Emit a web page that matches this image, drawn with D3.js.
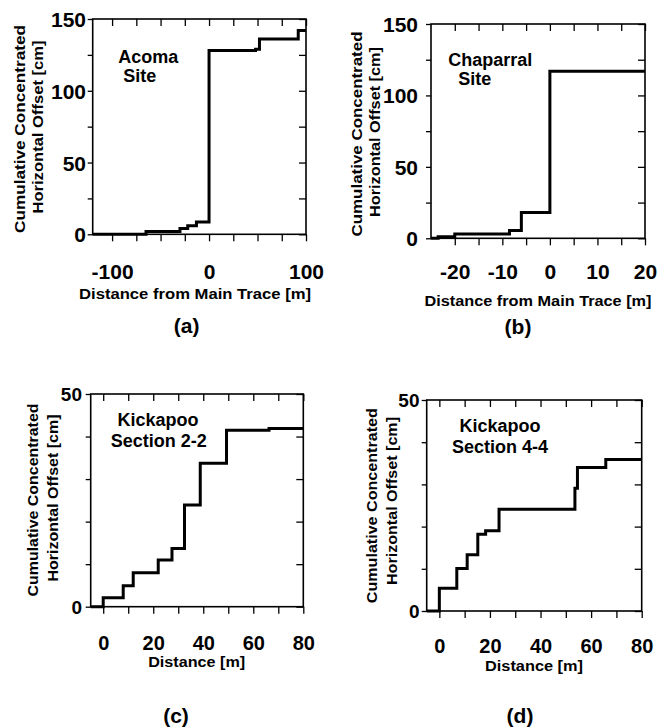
<!DOCTYPE html>
<html>
<head>
<meta charset="utf-8">
<script src="https://cdn.jsdelivr.net/npm/d3@7"></script>
<style>
  html, body { margin: 0; padding: 0; background: #fff; }
  svg { display: block; font-family: "Liberation Sans", Arial, Helvetica, sans-serif; }
</style>
</head>
<body>
<svg id="chart" width="657" height="727"></svg>
<script>
// ---------- DATA ----------
// (a) Acoma Site: step positions (m) and cumulative offset after each step (cm)
const acomaX = [-120, -65, -30, -22, -13, 0, 48, 52, 92, 100];
const acomaY = [0, 2, 4, 6, 8.5, 128, 129, 136, 142, 142];
// (b) Chaparral Site
const chaparralX = [-25, -23.5, -20, -8.5, -6, 0, 20];
const chaparralY = [0, 1, 3, 5.5, 18, 117, 117];
// (c) Kickapoo Section 2-2
const kick22X = [-5, 0, 8, 12, 22, 27.5, 32.5, 38.8, 49.3, 66.3, 80];
const kick22Y = [0, 2.1, 4.9, 8.0, 11.0, 13.7, 23.9, 33.7, 41.5, 41.9, 41.9];
// (d) Kickapoo Section 4-4
const kick44X = [-5, 0, 6.9, 11, 15.2, 18.3, 23.6, 53.6, 54.6, 65.8, 80];
const kick44Y = [0, 5.4, 10.1, 13.3, 18.2, 19.0, 24.1, 29.1, 34.0, 35.9, 35.9];

// Tick values
const acomaXTicks = [-100, -75, -50, -25, 0, 25, 50, 75, 100];
const acomaXLabels = [-100, 0, 100];
const chaparralXTicks = [-20, -15, -10, -5, 0, 5, 10, 15, 20];
const chaparralXLabels = [-20, -10, 0, 10, 20];
const siteYTicks = [0, 25, 50, 75, 100, 125, 150];
const siteYLabels = [0, 50, 100, 150];
const kickXTicks = [0, 10, 20, 30, 40, 50, 60, 70, 80];
const kickXLabels = [0, 20, 40, 60, 80];
const kickYTicks = [0, 10, 20, 30, 40, 50];
const kickYLabels = [0, 50];

// Text
const yTitle1 = "Cumulative Concentrated";
const yTitle2 = "Horizontal Offset [cm]";
const xTitleLong = "Distance from Main Trace [m]";
const xTitleShort = "Distance [m]";

// ---------- LAYOUT ----------
const svg = d3.select("#chart");

const panels = [
  {
    xs: acomaX, ys: acomaY, xDom: [-120, 100], yDom: [0, 150],
    box: {l: 92.7, r: 306, t: 19, b: 234.3},
    xTicks: acomaXTicks, xLabels: acomaXLabels, yTicks: siteYTicks, yLabels: siteYLabels,
    xLabOff: 37.4, yLabGap: 6.7, xFont: 21, yFont: 21,
    yt: [{x: 20, y: 129, len: 208}, {x: 38, y: 127, len: 173}], ytFont: 15,
    xt: {x: 195, y: 294, len: 232, text: xTitleLong}, xtFont: 14.5,
    site: [{text: "Acoma", x: 118.3, y: 63, anchor: "start"}, {text: "Site", x: 123.3, y: 81.7, anchor: "start"}],
    tag: {text: "(a)", x: 186.7, y: 326}
  },
  {
    xs: chaparralX, ys: chaparralY, xDom: [-25, 20], yDom: [0, 150],
    box: {l: 431, r: 645, t: 24, b: 238.3},
    xTicks: chaparralXTicks, xLabels: chaparralXLabels, yTicks: siteYTicks, yLabels: siteYLabels,
    xLabOff: 33.4, yLabGap: 13, xFont: 21, yFont: 21,
    yt: [{x: 356.7, y: 134, len: 205}, {x: 375, y: 132, len: 170}], ytFont: 15,
    xt: {x: 538, y: 301, len: 227, text: xTitleLong}, xtFont: 14.5,
    site: [{text: "Chaparral", x: 448.3, y: 66, anchor: "start"}, {text: "Site", x: 458.3, y: 85, anchor: "start"}],
    tag: {text: "(b)", x: 518, y: 327}
  },
  {
    xs: kick22X, ys: kick22Y, xDom: [-5, 80], yDom: [0, 50],
    box: {l: 90.7, r: 303.3, t: 394, b: 606.7},
    xTicks: kickXTicks, xLabels: kickXLabels, yTicks: kickYTicks, yLabels: kickYLabels,
    xLabOff: 35.8, yLabGap: 8.7, xFont: 20, yFont: 19,
    yt: [{x: 33.3, y: 500, len: 193}, {x: 53.3, y: 498, len: 167}], ytFont: 14,
    xt: {x: 196.7, y: 662, len: 97, text: xTitleShort}, xtFont: 14,
    site: [{text: "Kickapoo", x: 158, y: 426, anchor: "middle"}, {text: "Section 2-2", x: 158.7, y: 446.7, anchor: "middle"}],
    tag: {text: "(c)", x: 176, y: 716}
  },
  {
    xs: kick44X, ys: kick44Y, xDom: [-5, 80], yDom: [0, 50],
    box: {l: 426.7, r: 641.7, t: 400, b: 611},
    xTicks: kickXTicks, xLabels: kickXLabels, yTicks: kickYTicks, yLabels: kickYLabels,
    xLabOff: 34.5, yLabGap: 7.2, xFont: 20, yFont: 19,
    yt: [{x: 371.7, y: 505.7, len: 195}, {x: 391.7, y: 501, len: 168}], ytFont: 14,
    xt: {x: 534, y: 666, len: 98, text: xTitleShort}, xtFont: 14,
    site: [{text: "Kickapoo", x: 500, y: 431.7, anchor: "middle"}, {text: "Section 4-4", x: 500, y: 452.7, anchor: "middle"}],
    tag: {text: "(d)", x: 520, y: 716}
  }
];

const TICK = 7;

panels.forEach(p => {
  const b = p.box;
  const x = d3.scaleLinear().domain(p.xDom).range([b.l, b.r]);
  const y = d3.scaleLinear().domain(p.yDom).range([b.b, b.t]);
  const g = svg.append("g");

  const fmt = labels => d => labels.includes(d) ? String(d) : "";

  // bottom axis (ticks outward, labels)
  const bottom = g.append("g").attr("transform", `translate(0,${b.b})`)
    .call(d3.axisBottom(x).tickValues(p.xTicks).tickFormat(fmt(p.xLabels)).tickSizeInner(TICK).tickSizeOuter(0));
  bottom.selectAll(".tick text")
    .attr("y", p.xLabOff).attr("dy", "0.36em")
    .attr("font-size", p.xFont).attr("font-weight", "bold")
    .attr("font-family", "Liberation Sans, Arial, sans-serif").attr("fill", "#000");

  // top axis (ticks pointing down, inward)
  g.append("g").attr("transform", `translate(0,${b.t})`)
    .call(d3.axisTop(x).tickValues(p.xTicks).tickFormat("").tickSizeInner(-TICK).tickSizeOuter(0));

  // left axis (ticks outward, labels)
  const left = g.append("g").attr("transform", `translate(${b.l},0)`)
    .call(d3.axisLeft(y).tickValues(p.yTicks).tickFormat(fmt(p.yLabels)).tickSizeInner(5).tickSizeOuter(0));
  left.selectAll(".tick text")
    .attr("x", -p.yLabGap).attr("dy", "0.36em")
    .attr("font-size", p.yFont).attr("font-weight", "bold")
    .attr("font-family", "Liberation Sans, Arial, sans-serif").attr("fill", "#000");

  // right axis (ticks pointing left, inward)
  g.append("g").attr("transform", `translate(${b.r},0)`)
    .call(d3.axisRight(y).tickValues(p.yTicks).tickFormat("").tickSizeInner(-TICK).tickSizeOuter(0));

  g.selectAll(".domain").remove();
  g.selectAll(".tick line").attr("stroke", "#000").attr("stroke-width", 1.3);

  // frame
  g.append("rect")
    .attr("x", b.l).attr("y", b.t).attr("width", b.r - b.l).attr("height", b.b - b.t)
    .attr("fill", "none").attr("stroke", "#000").attr("stroke-width", 1.6);

  // step line
  const pts = p.xs.map((v, i) => [v, p.ys[i]]);
  const line = d3.line().x(d => x(d[0])).y(d => y(d[1])).curve(d3.curveStepAfter);
  g.append("path").datum(pts)
    .attr("d", line)
    .attr("fill", "none").attr("stroke", "#000").attr("stroke-width", 3)
    .attr("stroke-linejoin", "miter");

  // y title (two rotated lines)
  p.yt.forEach((t, i) => {
    g.append("text")
      .attr("transform", `translate(${t.x},${t.y}) rotate(-90)`)
      .attr("text-anchor", "middle").attr("dy", "0.35em")
      .attr("font-size", p.ytFont).attr("font-weight", "bold")
      .attr("textLength", t.len).attr("lengthAdjust", "spacingAndGlyphs")
      .text(i === 0 ? yTitle1 : yTitle2);
  });

  // x title
  g.append("text")
    .attr("x", p.xt.x).attr("y", p.xt.y)
    .attr("text-anchor", "middle").attr("dy", "0.35em")
    .attr("font-size", p.xtFont).attr("font-weight", "bold")
    .attr("textLength", p.xt.len).attr("lengthAdjust", "spacingAndGlyphs")
    .text(p.xt.text);

  // site label
  p.site.forEach(s => {
    g.append("text")
      .attr("x", s.x).attr("y", s.y)
      .attr("text-anchor", s.anchor)
      .attr("font-size", 18).attr("font-weight", "bold")
      .text(s.text);
  });

  // panel tag
  g.append("text")
    .attr("x", p.tag.x).attr("y", p.tag.y)
    .attr("text-anchor", "middle").attr("dy", "0.35em")
    .attr("font-size", 21).attr("font-weight", "bold")
    .text(p.tag.text);
});
</script>
</body>
</html>
